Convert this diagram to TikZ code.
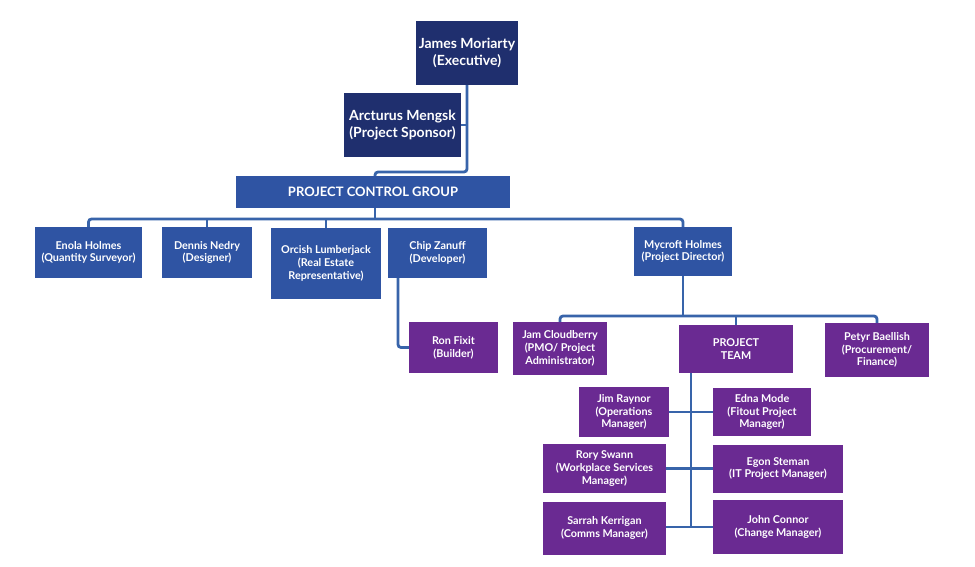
\documentclass[tikz,border=0pt]{standalone}
\usepackage{fontspec}
\setmainfont{Lato}
\definecolor{navy}{HTML}{1F2F6E}
\definecolor{midblue}{HTML}{2F54A3}
\definecolor{purp}{HTML}{6A2A92}
\definecolor{linec}{HTML}{3864AA}
\begin{document}
\begin{tikzpicture}[x=1pt,y=-1pt,
  box/.style={inner sep=1pt,align=center,text=white,font=\bfseries\fontsize{10.8}{12.7}\selectfont},
  topbox/.style={box,fill=navy,font=\bfseries\fontsize{14}{17}\selectfont},
  bluebox/.style={box,fill=midblue},
  purpbox/.style={box,fill=purp},
  conn/.style={draw=linec,line width=2.8pt,rounded corners=3pt}]
\useasboundingbox (0,0) rectangle (975,567);
\fill[white] (0,0) rectangle (975,567);
% top
\node[topbox,minimum width=102pt,minimum height=64pt] (jm) at (467,53) {James Moriarty\\(Executive)};
\node[topbox,minimum width=117pt,minimum height=64pt] (am) at (402.5,125) {Arcturus Mengsk\\(Project Sponsor)};
\node[bluebox,font=\bfseries\fontsize{13}{15}\selectfont,minimum width=274pt,minimum height=32pt] (pcg) at (373,192) {PROJECT CONTROL GROUP};
% second level
\node[bluebox,minimum width=107pt,minimum height=51pt] (enola) at (88.5,252.5) {Enola Holmes\\(Quantity Surveyor)};
\node[bluebox,minimum width=90pt,minimum height=51pt] (dennis) at (207,252.5) {Dennis Nedry\\(Designer)};
\node[bluebox,minimum width=110pt,minimum height=71pt] (orcish) at (326,263.5) {Orcish Lumberjack\\(Real Estate\\Representative)};
\node[bluebox,minimum width=99pt,minimum height=50pt] (chip) at (437.5,253) {Chip Zanuff\\(Developer)};
\node[bluebox,minimum width=98pt,minimum height=49pt] (mycroft) at (683,251.5) {Mycroft Holmes\\(Project Director)};
% third level
\node[purpbox,minimum width=89pt,minimum height=51pt] (ron) at (453.5,347.5) {Ron Fixit\\(Builder)};
\node[purpbox,minimum width=94pt,minimum height=53pt] (jam) at (560,348.5) {Jam Cloudberry\\(PMO/ Project\\Administrator)};
\node[purpbox,minimum width=114pt,minimum height=48pt] (team) at (736,349) {PROJECT\\TEAM};
\node[purpbox,minimum width=104pt,minimum height=54pt] (petyr) at (877,350) {Petyr Baellish\\(Procurement/\\Finance)};
% team
\node[purpbox,minimum width=90pt,minimum height=50pt] (jim) at (624,412) {Jim Raynor\\(Operations\\Manager)};
\node[purpbox,minimum width=98pt,minimum height=48pt] (edna) at (762,412) {Edna Mode\\(Fitout Project\\Manager)};
\node[purpbox,minimum width=123pt,minimum height=49pt] (rory) at (604.5,468.5) {Rory Swann\\(Workplace Services\\Manager)};
\node[purpbox,minimum width=130pt,minimum height=48pt] (egon) at (778,468.5) {Egon Steman\\(IT Project Manager)};
\node[purpbox,minimum width=123pt,minimum height=53pt] (sarrah) at (604.5,528) {Sarrah Kerrigan\\(Comms Manager)};
\node[purpbox,minimum width=130pt,minimum height=54pt] (john) at (778,527) {John Connor\\(Change Manager)};
% bus coordinates
\coordinate (b0) at (0,172);
\coordinate (b1) at (0,219);
\coordinate (b2) at (0,316);
\coordinate (tv) at (691,0);
\coordinate (rv) at (398,0);
\coordinate (pv) at (375,0);
% connectors
\draw[conn] (jm.south) -- (jm.south |- b0) -| (pcg.north -| pv);
\draw[conn] (am.east) -- (am.east -| jm.south);
\draw[conn] (pcg.south -| pv) -- (pv |- b1);
\draw[conn] (enola.north) |- (mycroft.north |- b1) -- (mycroft.north);
\draw[conn] (dennis.north) -- (dennis.north |- b1);
\draw[conn] (orcish.north) -- (orcish.north |- b1);
\draw[conn] (chip.south -| rv) |- (ron.west);
\draw[conn] (mycroft.south) -- (mycroft.south |- b2);
\draw[conn] (jam.north) |- (petyr.north |- b2) -- (petyr.north);
\draw[conn] (team.north) -- (team.north |- b2);
\draw[conn] (team.south -| tv) -- (tv |- john.west);
\draw[conn] (jim.east) -- (edna.west);
\draw[conn] (rory.east) -- (egon.west);
\draw[conn] (sarrah.east |- john.west) -- (john.west);
\end{tikzpicture}
\end{document}
